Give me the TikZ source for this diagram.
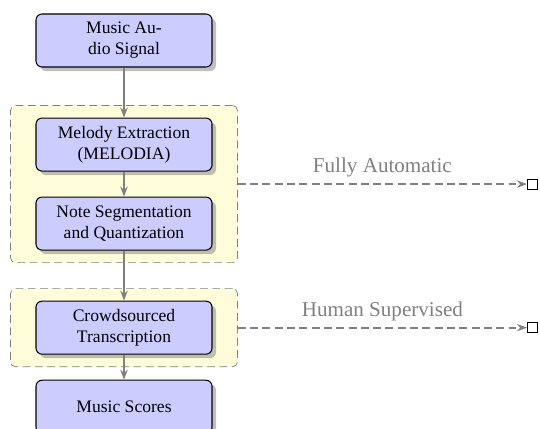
\documentclass[tikz,border=0pt]{standalone}
\usepackage{fontspec}
\setmainfont{Liberation Serif}
\usepackage{tikz}
\usetikzlibrary{arrows.meta,positioning,fit,backgrounds,shadows}

\begin{document}
\begin{tikzpicture}[
      stage/.style={rectangle, rounded corners=0.12cm, draw, semithick, fill=blue!20,
        drop shadow, minimum width=3.52cm, minimum height=1.06cm,
        align=center, font=\normalsize},
      grp/.style={rectangle, rounded corners=0.1cm, draw=gray, dash pattern=on 4.5pt off 2.5pt,
        fill=yellow!15, inner xsep=0.5cm, inner ysep=0.24cm},
      arr/.style={-{Stealth[length=2mm,width=1.5mm]}, line width=1pt, gray},
      darr/.style={-{Stealth[length=2mm,width=1.5mm]}, line width=1pt, gray,
        dash pattern=on 4.5pt off 2.5pt},
      sq/.style={rectangle, draw, minimum size=0.2cm, inner sep=0pt},
      lbl/.style={font=\large, text=gray}
    ]
      \useasboundingbox (0,0) rectangle (10.8,-8.58);
      \node[stage] (audio) at (2.48,-0.81) {Music Au-\\dio Signal};
      \node[stage, below=1cm of audio] (melody) {Melody Extraction\\(MELODIA)};
      \node[stage, below=0.5cm of melody] (note) {Note Segmentation\\and Quantization};
      \node[stage, below=1cm of note] (crowd) {Crowdsourced\\Transcription};
      \node[stage, below=0.5cm of crowd] (scores) {Music Scores};
      \begin{scope}[on background layer]
        \node[grp, fit=(melody) (note)] (grpA) {};
        \node[grp, fit=(crowd)] (grpB) {};
      \end{scope}
      \draw[arr] (audio) -- (melody);
      \draw[arr] (melody) -- (note);
      \draw[arr] (note) -- (crowd);
      \draw[arr] (crowd) -- (scores);
      % outputs
      \node[sq, right=5.78cm of grpA] (auto) {};
      \node[sq, right=5.78cm of grpB] (human) {};
      \draw[darr] (grpA) -- node[above, lbl] {Fully Automatic} (auto);
      \draw[darr] (grpB) -- node[above, lbl] {Human Supervised} (human);
    \end{tikzpicture}
\end{document}
